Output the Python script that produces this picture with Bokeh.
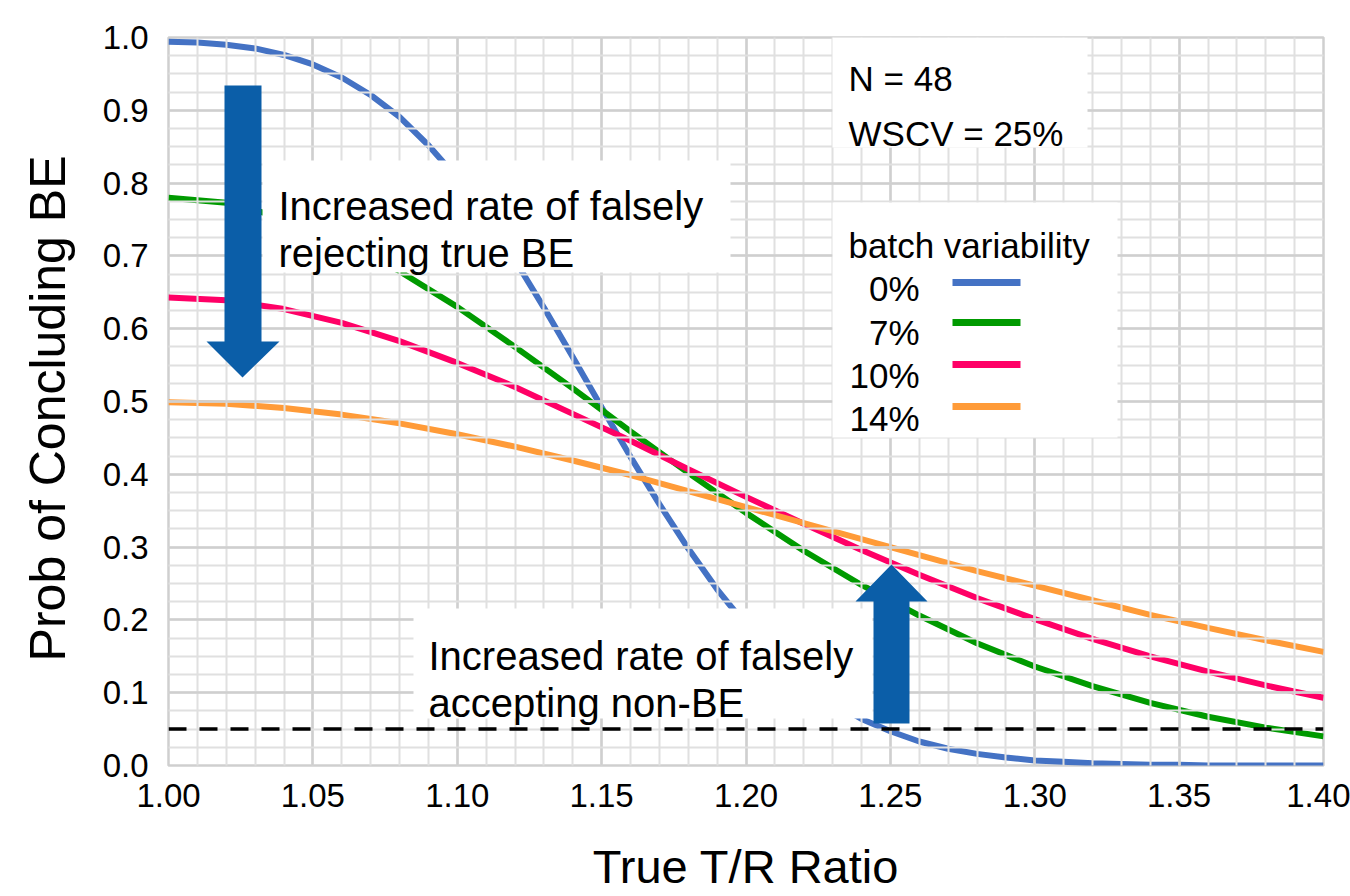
from bokeh.plotting import figure
from bokeh.models import Range1d, FixedTicker, PrintfTickFormatter, Span
from bokeh.embed import file_html
from bokeh.resources import INLINE
from bokeh.core.properties import value

# ---------------- data ----------------
ratio_fine = [round(1.00 + 0.01 * i, 2) for i in range(41)]
prob_0 = [0.994, 0.993, 0.990, 0.985, 0.976, 0.963, 0.945, 0.921, 0.891, 0.852,
          0.807, 0.753, 0.694, 0.629, 0.561, 0.492, 0.424, 0.359, 0.298, 0.242,
          0.193, 0.151, 0.116, 0.087, 0.064, 0.047, 0.033, 0.023, 0.016, 0.011,
          0.007, 0.005, 0.003, 0.002, 0.001, 0.001, 0.000, 0.000, 0.000, 0.000, 0.000]

ratio = [round(1.00 + 0.02 * i, 2) for i in range(21)]
prob_7 = [0.780, 0.773, 0.752, 0.720, 0.679, 0.630, 0.575, 0.518, 0.459, 0.402,
          0.347, 0.295, 0.248, 0.206, 0.168, 0.136, 0.109, 0.086, 0.067, 0.052, 0.040]
prob_10 = [0.643, 0.639, 0.627, 0.608, 0.583, 0.553, 0.520, 0.483, 0.446, 0.407,
           0.369, 0.332, 0.296, 0.262, 0.230, 0.201, 0.174, 0.150, 0.129, 0.110, 0.093]
prob_14 = [0.499, 0.497, 0.491, 0.482, 0.470, 0.455, 0.438, 0.419, 0.399, 0.377,
           0.355, 0.333, 0.311, 0.289, 0.267, 0.247, 0.227, 0.207, 0.189, 0.172, 0.156]

batch_labels = ["0%", "7%", "10%", "14%"]
threshold = 0.05
x_ticks = [1.00, 1.05, 1.10, 1.15, 1.20, 1.25, 1.30, 1.35, 1.40]
y_ticks = [0.0, 0.1, 0.2, 0.3, 0.4, 0.5, 0.6, 0.7, 0.8, 0.9, 1.0]
info_lines = ["N = 48", "WSCV = 25%"]
legend_title = "batch variability"
note_top = ["Increased rate of falsely", "rejecting true BE"]
note_bottom = ["Increased rate of falsely", "accepting non-BE"]

# ---------------- styling ----------------
FONT = "Liberation Sans"
COLORS = ["#4472C4", "#009A00", "#FF0066", "#FF9B38"]
ARROW_COLOR = "#0B5EA8"
W, H = 1350, 896
FL, FR, FT, FB = 168, 1323, 37, 765   # frame edges in pixels

x_lo, x_hi = x_ticks[0], x_ticks[-1]
y_lo, y_hi = y_ticks[0], y_ticks[-1]


def dx(px):
    return x_lo + (px - FL) * (x_hi - x_lo) / (FR - FL)


def dy(py):
    return y_lo + (FB - py) * (y_hi - y_lo) / (FB - FT)


p = figure(width=W, height=H, x_range=Range1d(x_lo, x_hi), y_range=Range1d(y_lo, y_hi),
           output_backend="svg", toolbar_location=None,
           min_border_left=FL, min_border_right=W - FR, min_border_top=FT, min_border_bottom=H - FB)
p.background_fill_color = "white"
p.border_fill_color = "white"
p.outline_line_color = "#cfcfcf"
p.outline_line_width = 2.5

# axes
p.xaxis.ticker = FixedTicker(ticks=x_ticks, minor_ticks=[x_lo + 0.01 * i for i in range(41)])
p.yaxis.ticker = FixedTicker(ticks=y_ticks, minor_ticks=[0.025 * i for i in range(41)])
p.xaxis.formatter = PrintfTickFormatter(format="%.2f")
p.yaxis.formatter = PrintfTickFormatter(format="%.1f")
for ax in (p.xaxis, p.yaxis):
    ax.axis_line_color = None
    ax.major_tick_line_color = None
    ax.minor_tick_line_color = None
    ax.major_tick_out = 0
    ax.minor_tick_out = 0
    ax.major_label_text_font = FONT
    ax.major_label_text_font_size = "33px"
    ax.major_label_text_color = "black"
    ax.axis_label_text_font = FONT
    ax.axis_label_text_font_style = "normal"
    ax.axis_label_text_color = "black"
p.xaxis.axis_label_text_font_size = "47px"
p.yaxis.axis_label_text_font_size = "50px"
p.xaxis.axis_label = "True T/R Ratio"
p.yaxis.axis_label = "Prob of Concluding  BE"
p.xaxis.major_label_standoff = 18
p.yaxis.major_label_standoff = 20
p.xaxis.axis_label_standoff = 30
p.yaxis.axis_label_standoff = 24

# grid (drawn above the curves, as in the reference)
for g in (p.xgrid, p.ygrid):
    g.grid_line_color = "#cfcfcf"
    g.grid_line_width = 2.5
    g.minor_grid_line_color = "#e0e0e0"
    g.minor_grid_line_width = 2
    g.level = "guide"

# curves
p.line(ratio_fine, prob_0, line_color=COLORS[0], line_width=6)
p.line(ratio, prob_7, line_color=COLORS[1], line_width=6)
p.line(ratio, prob_10, line_color=COLORS[2], line_width=6)
p.line(ratio, prob_14, line_color=COLORS[3], line_width=6)

# 0.05 reference line
p.add_layout(Span(location=threshold, dimension="width", line_color="black",
                  line_width=3.5, line_dash="18 13", level="overlay"))

# white boxes (pixel geometry -> data coordinates)
boxes = [(262, 730, 160, 272), (413, 872, 608, 718), (832, 1087, FT, 147), (832, 1117, 202, 437)]
p.quad(left=[dx(b[0]) for b in boxes], right=[dx(b[1]) for b in boxes],
       top=[dy(b[2]) for b in boxes], bottom=[dy(b[3]) for b in boxes],
       fill_color="white", line_color=None, level="overlay")

# arrows
down = [(224, 85), (261, 85), (261, 341), (279, 341), (242, 377), (206, 341), (224, 341)]
up = [(873, 723), (909, 723), (909, 601), (927, 601), (891, 564), (855, 601), (873, 601)]
p.patches(xs=[[dx(a) for a, b in down], [dx(a) for a, b in up]],
          ys=[[dy(b) for a, b in down], [dy(b) for a, b in up]],
          fill_color=ARROW_COLOR, line_color=None, level="overlay")

# texts
left_texts = [
    (note_top[0], 278, 205, "40px"),
    (note_top[1], 278, 252, "40px"),
    (note_bottom[0], 428, 655, "40px"),
    (note_bottom[1], 428, 702, "40px"),
]
for t, px, py, fs in left_texts:
    p.text(x=[dx(px)], y=[dy(py)], text=[t], text_font=value(FONT), text_font_size=fs,
           text_color="black", text_baseline="alphabetic", text_align="left", level="overlay")

info_pos = [(848, 78), (848, 133)]
for t, (px, py) in zip(info_lines, info_pos):
    p.text(x=[dx(px)], y=[dy(py)], text=[t], text_font=value(FONT), text_font_size="35px",
           text_color="black", text_baseline="alphabetic", text_align="left", level="overlay")

p.text(x=[dx(848)], y=[dy(245)], text=[legend_title], text_font=value(FONT), text_font_size="35px",
       text_color="black", text_baseline="alphabetic", text_align="left", level="overlay")

label_base = [288, 332, 375, 418]
line_y = [282, 322, 364, 406]
p.text(x=[dx(919)] * 4, y=[dy(v) for v in label_base], text=batch_labels,
       text_font=value(FONT), text_font_size="35px", text_color="black",
       text_baseline="alphabetic", text_align="right", level="overlay")
p.segment(x0=[dx(952)] * 4, x1=[dx(1020)] * 4, y0=[dy(v) for v in line_y], y1=[dy(v) for v in line_y],
          line_color=COLORS, line_width=7, level="overlay")

open("out.html", "w").write(file_html(p, INLINE))
